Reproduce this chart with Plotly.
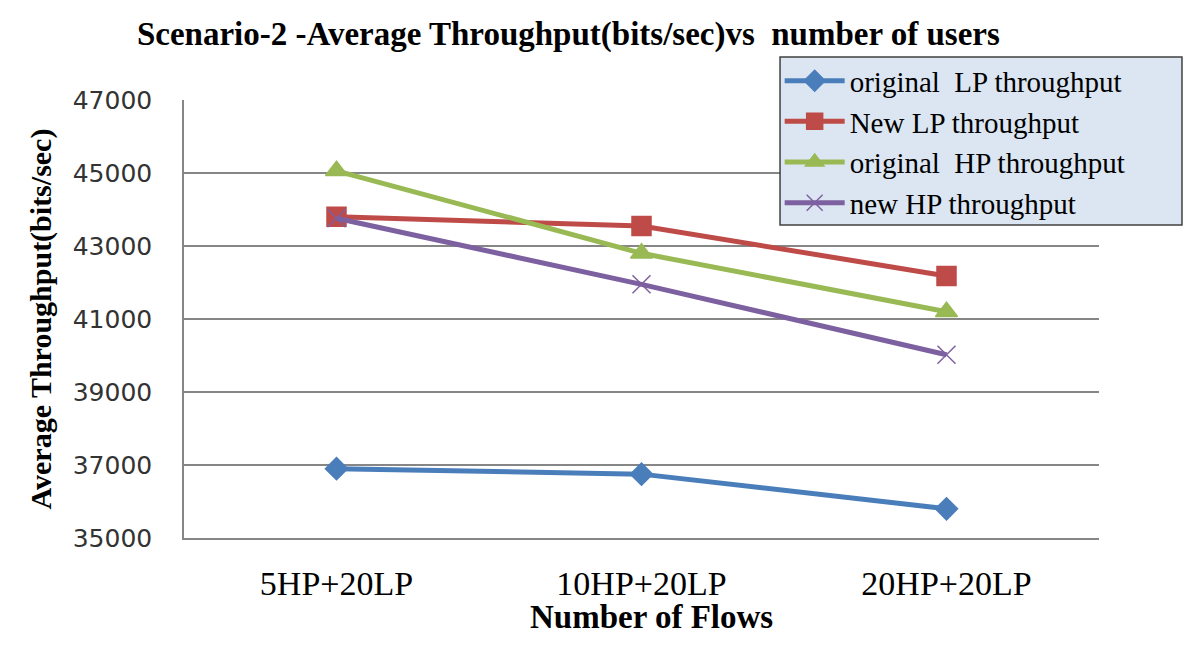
import plotly.graph_objects as go

categories = ["5HP+20LP", "10HP+20LP", "20HP+20LP"]
original_lp = [36900, 36750, 35800]
new_lp = [43800, 43550, 42180]
original_hp = [45060, 42800, 41200]
new_hp = [43760, 41950, 40020]
y_ticks = [35000, 37000, 39000, 41000, 43000, 45000, 47000]

series = [
    ("original  LP throughput", original_lp, "#4a7ebb", "diamond", 17),
    ("New LP throughput", new_lp, "#be4b48", "square", 19),
    ("original  HP throughput", original_hp, "#98b954", "triangle-up", 19),
    ("new HP throughput", new_hp, "#7d60a0", "x-thin", 18),
]

fig = go.Figure()
for name, vals, col, sym, size in series:
    fig.add_trace(go.Scatter(
        x=categories, y=vals, name=name, mode="lines+markers",
        line=dict(color=col, width=5),
        marker=dict(symbol=sym, size=size, color=col,
                    line=dict(color=col, width=1.5)),
    ))

fig.update_layout(
    width=1200, height=646,
    paper_bgcolor="white", plot_bgcolor="white",
    margin=dict(l=176, r=109, t=92, b=116),
    title=dict(text="<b>Scenario-2 -Average Throughput(bits/sec)vs  number of users</b>",
               x=0.467, xanchor="center", y=0.961, yanchor="middle",
               font=dict(family="Liberation Serif", size=33, color="black")),
    legend=dict(x=0.651, xanchor="left", y=1.102, yanchor="top",
                bgcolor="rgba(0,0,0,0)", borderwidth=0,
                font=dict(family="Liberation Serif", size=29, color="black"),
                itemwidth=60, tracegroupgap=0),
    showlegend=True,
    shapes=[dict(type="rect", xref="paper", yref="paper",
                 x0=0.6514, x1=1.0907, y0=0.7146, y1=1.0982,
                 fillcolor="#dce6f2", line=dict(color="#404040", width=1.5),
                 layer="above")],
    annotations=[dict(text="<b>Number of Flows</b>", xref="paper", yref="paper",
                      x=0.511, y=-0.180, xanchor="center", yanchor="middle",
                      showarrow=False,
                      font=dict(family="Liberation Serif", size=33, color="black"))],
)
fig.update_xaxes(
    type="category", range=[-0.5, 2.5],
    showline=True, linecolor="#868686", linewidth=1.5,
    showgrid=False, ticks="", ticklabelstandoff=14,
    tickfont=dict(family="Liberation Serif", size=34, color="black"),
)
fig.update_yaxes(
    range=[35000, 47000], tickmode="array", tickvals=y_ticks, tickformat="d",
    showline=True, linecolor="#868686", linewidth=1.5,
    showgrid=True, gridcolor="#868686", gridwidth=1.5,
    ticks="", ticklabelstandoff=25,
    tickfont=dict(family="DejaVu Sans", size=25, color="#333333"),
    title=dict(text="<b>Average Throughput(bits/sec)</b>", standoff=12,
               font=dict(family="Liberation Serif", size=30, color="black")),
)

fig.write_html("out.html")
